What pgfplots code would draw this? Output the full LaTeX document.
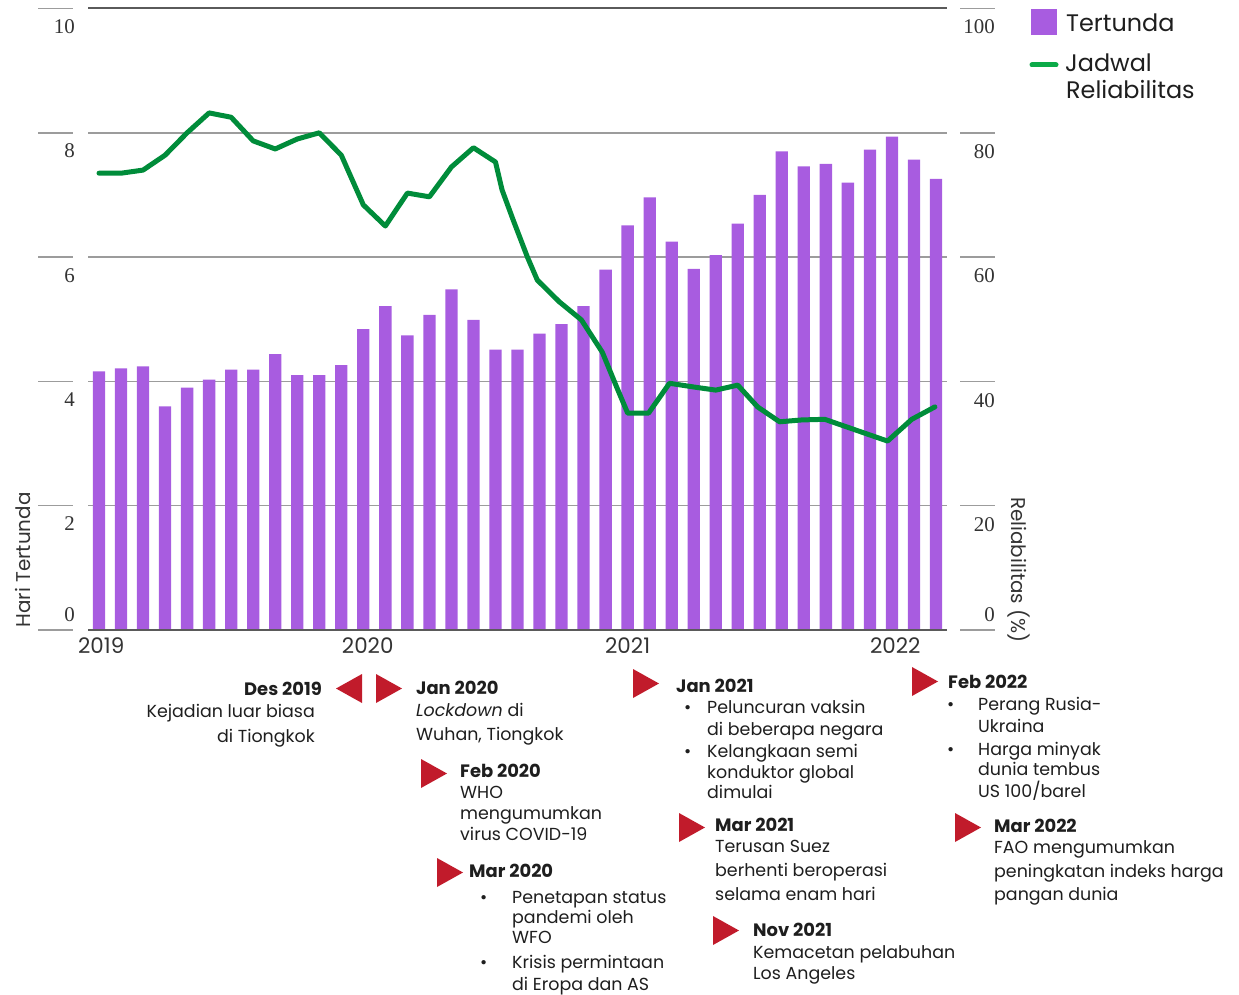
\documentclass[border=0pt]{standalone}
\usepackage{pgfplots}
\pgfplotsset{compat=1.18}
\usepackage{pgfplotstable}
\usepackage{fontspec}
\setmainfont{Poppins}
\newfontfamily\numfont{Liberation Serif}
\definecolor{purp}{HTML}{A85CE0}
\definecolor{grn}{HTML}{008C3A}
\definecolor{grnleg}{HTML}{0BAA48}
\definecolor{trired}{HTML}{C11B2B}
\definecolor{gridgray}{HTML}{9C9C9C}
\definecolor{darkline}{HTML}{5A5A5A}
\definecolor{txt}{HTML}{1E1E1E}
\definecolor{numc}{HTML}{333333}

\pgfplotstableread{
m v
0 4.16
1 4.21
2 4.24
3 3.60
4 3.90
5 4.03
6 4.19
7 4.19
8 4.44
9 4.10
10 4.10
11 4.26
12 4.84
13 5.21
14 4.74
15 5.07
16 5.48
17 4.99
18 4.51
19 4.51
20 4.77
21 4.92
22 5.21
23 5.80
24 6.51
25 6.96
26 6.25
27 5.81
28 6.03
29 6.54
30 7.00
31 7.70
32 7.46
33 7.50
34 7.20
35 7.73
36 7.94
37 7.57
38 7.26
}\bars

\pgfplotstableread{
m r
0 73.5
1 73.5
2 74.0
3 76.4
4 80.0
5 83.2
6 82.5
7 78.7
8 77.4
9 79.0
10 80.0
11 76.4
12 68.4
13 65.0
14 70.3
15 69.7
16 74.5
17 77.6
18 75.3
18.3 70.8
18.8 66.0
19.45 60.0
19.9 56.3
20.9 52.8
21.9 49.9
22.85 44.7
23.5 39.1
24 34.9
24.95 34.9
25.9 39.7
27 39.1
28 38.6
29 39.4
29.9 35.9
30.9 33.5
31.9 33.8
32.95 33.9
35.8 30.4
36.9 33.9
37.95 35.9
}\rel

\newcommand{\tx}[3]{\node[anchor=base west,inner sep=0pt] at (#1,#2) {#3};}
\newcommand{\txr}[3]{\node[anchor=base east,inner sep=0pt] at (#1,#2) {#3};}
\newcommand{\trir}[2]{\fill[trired] (#1,#2) -- ({#1+26},{#2+14.5}) -- (#1,{#2+29}) -- cycle;}
\newcommand{\tril}[2]{\fill[trired] (#1,#2) -- ({#1-26},{#2+14.5}) -- (#1,{#2+29}) -- cycle;}
\newcommand{\bul}[2]{\node[anchor=base west,inner sep=0pt] at ({#1-3},#2) {•};}

\begin{document}
\begin{tikzpicture}
\begin{scope}[x=1bp,y=-1bp]
\useasboundingbox (0,0) rectangle (1239,994);
\end{scope}

\begin{axis}[
  at={(88bp,-630bp)}, anchor=south west,
  scale only axis, width=859bp, height=621.5bp,
  xmin=-0.5, xmax=38.5, ymin=0, ymax=10,
  axis line style={draw=none},
  major tick length=0pt,
  ytick={0,2,4,6,8,10}, yticklabels={},
  ymajorgrids, grid style={draw=gridgray, line width=1.5bp},
  xtick={0.1,12.2,24,36.15}, xticklabels={2019,2020,2021,2022},
  xticklabel style={font=\fontsize{21.5}{22}\selectfont, text=numc, inner sep=0pt, anchor=north, yshift=-8bp},
  ybar, bar width=12.3bp,
  clip=false,
]
\addplot[fill=purp, draw=none] table[x=m,y=v]{\bars};
\draw[darkline, line width=2bp] (axis cs:-0.5,0) -- (axis cs:38.5,0);
\draw[darkline, line width=2bp] (axis cs:-0.5,10) -- (axis cs:38.5,10);
\end{axis}

\begin{axis}[
  at={(88bp,-630bp)}, anchor=south west,
  scale only axis, width=859bp, height=621.5bp,
  xmin=-0.5, xmax=38.5, ymin=0, ymax=100,
  hide axis, clip=false,
]
\addplot[grn, line width=5bp, line join=round, line cap=round, mark=none] table[x=m,y=r]{\rel};
\end{axis}

\begin{scope}[x=1bp,y=-1bp]
% outer tick segments
\foreach \yy in {630,505.7,381.4,257.1,132.8,8.5} {
  \draw[gridgray, line width=1.5bp] (38,\yy) -- (73,\yy);
  \draw[gridgray, line width=1.5bp] (960,\yy) -- (995,\yy);
}
\begin{scope}[every node/.style={font=\numfont\fontsize{21}{21}\selectfont, text=numc, inner sep=0pt}]
\node[anchor=north east] at (75,19.5) {10};
\node[anchor=north east] at (75,143.8) {8};
\node[anchor=north east] at (75,268.1) {6};
\node[anchor=north east] at (75,392.4) {4};
\node[anchor=north east] at (75,516.7) {2};
\node[anchor=south east] at (75,622) {0};
\node[anchor=north east] at (995,19.5) {100};
\node[anchor=north east] at (995,144.3) {80};
\node[anchor=north east] at (995,268.6) {60};
\node[anchor=north east] at (995,392.9) {40};
\node[anchor=north east] at (995,517.2) {20};
\node[anchor=south east] at (995,622) {0};
\end{scope}

% axis titles
\node[rotate=90, inner sep=0pt, font=\fontsize{20}{20}\selectfont, text=numc] at (23,560) {Hari Tertunda};
\node[rotate=-90, inner sep=0pt, font=\fontsize{20}{20}\selectfont, text=numc] at (1019,570) {Reliabilitas (\%)};

% legend
\fill[purp] (1031,9) rectangle (1057,35);
\draw[grnleg, line width=5bp, line cap=round] (1032,65) -- (1056,65);
\begin{scope}[every node/.style={font=\fontsize{24}{24}\selectfont, text=txt}]
\tx{1066}{32}{Tertunda}
\tx{1065}{72}{Jadwal}
\tx{1066}{99}{Reliabilitas}
\end{scope}

% triangles
\tril{362}{674}
\trir{376}{674}
\trir{421}{759}
\trir{437}{858}
\trir{633}{669}
\trir{679}{813}
\trir{713}{916}
\trir{912}{667}
\trir{955}{813}

% annotations
\begin{scope}[every node/.style={font=\fontsize{17.5}{21}\selectfont, text=txt}]
\begin{scope}[every node/.append style={font=\fontsize{18}{22}\selectfont\bfseries}]
\txr{322}{695}{Des 2019}
\tx{416}{694}{Jan 2020}
\tx{460}{777}{Feb 2020}
\tx{469}{877}{Mar 2020}
\tx{676}{692}{Jan 2021}
\tx{715}{831}{Mar 2021}
\tx{753}{936}{Nov 2021}
\tx{948}{688}{Feb 2022}
\tx{994}{832}{Mar 2022}
\end{scope}
\txr{315}{717}{Kejadian luar biasa}
\txr{315}{742}{di Tiongkok}
\tx{416}{716}{\textit{Lockdown} di}
\tx{416}{740}{Wuhan, Tiongkok}
\tx{460}{798}{WHO}
\tx{460}{819}{mengumumkan}
\tx{460}{840}{virus COVID-19}
\bul{483}{903}
\bul{483}{968}
\tx{512}{903}{Penetapan status}
\tx{512}{923}{pandemi oleh}
\tx{512}{943}{WFO}
\tx{512}{968}{Krisis permintaan}
\tx{512}{990}{di Eropa dan AS}
\bul{687}{713}
\bul{687}{757}
\tx{707}{713}{Peluncuran vaksin}
\tx{707}{735}{di beberapa negara}
\tx{707}{757}{Kelangkaan semi}
\tx{707}{778}{konduktor global}
\tx{707}{798}{dimulai}
\tx{715}{852}{Terusan Suez}
\tx{715}{876}{berhenti beroperasi}
\tx{715}{900}{selama enam hari}
\tx{753}{958}{Kemacetan pelabuhan}
\tx{753}{979}{Los Angeles}
\bul{950}{710}
\bul{950}{755}
\tx{978}{710}{Perang Rusia-}
\tx{978}{732}{Ukraina}
\tx{978}{755}{Harga minyak}
\tx{978}{775}{dunia tembus}
\tx{978}{797}{US 100/barel}
\tx{994}{853}{FAO mengumumkan}
\tx{994}{877}{peningkatan indeks harga}
\tx{994}{900}{pangan dunia}
\end{scope}
\end{scope}
\end{tikzpicture}
\end{document}
